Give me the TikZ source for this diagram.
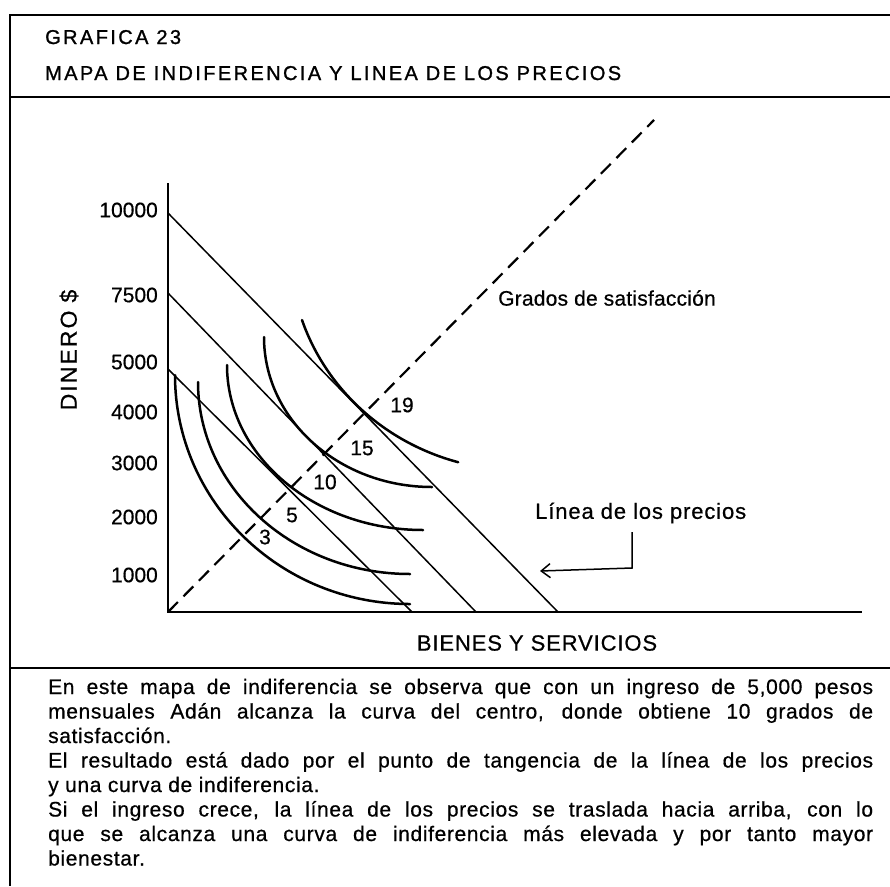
\documentclass[tikz,border=0pt]{standalone}
\usepackage{fontspec}
\setmainfont{Liberation Sans}
\newfontfamily\lsp[LetterSpace=4,FakeBold=0.6]{Liberation Sans}
\newfontfamily\gsp[LetterSpace=1,FakeBold=0.6]{Liberation Sans}
\newfontfamily\bsp[LetterSpace=3,FakeBold=0.6]{Liberation Sans}
\newfontfamily\tsp[LetterSpace=12,FakeBold=1.2]{Liberation Sans}
\newfontfamily\dsp[LetterSpace=9,FakeBold=0.6]{Liberation Sans}
\newfontfamily\nsp[FakeBold=0.6]{Liberation Sans}
\usetikzlibrary{arrows.meta}
\begin{document}
\begin{tikzpicture}[x=1pt,y=-1pt,
  frame/.style={line width=2pt},
  axis/.style={line width=2.4pt},
  pline/.style={line width=1.5pt},
  icurve/.style={line width=2.5pt, line cap=round},
  dline/.style={line width=2.2pt, dash pattern=on 14pt off 8pt},
  lab/.style={font=\lsp\fontsize{22}{26}\selectfont, inner sep=0pt},
  num/.style={font=\nsp\fontsize{21}{25}\selectfont, inner sep=0pt},
  tick/.style={num, anchor=east},
  ttl/.style={font=\tsp\fontsize{20}{24}\selectfont, inner sep=0pt, anchor=base west},
  body/.style={font=\bsp\fontsize{21}{25}\selectfont, inner sep=0pt, anchor=base west},
]
\useasboundingbox (0,0) rectangle (890,886);
% frame
\coordinate (ftl) at (10,15); \coordinate (ftr) at (890,15); \coordinate (fbl) at (10,886);
\coordinate (s1l) at (10,97); \coordinate (s1r) at (890,97);
\coordinate (s2l) at (10,668); \coordinate (s2r) at (890,668);
\draw[frame] (ftr) -- (ftl) -- (fbl);
\draw[frame] (s1l) -- (s1r);
\draw[frame] (s2l) -- (s2r);
% title
\node[ttl] (g23) at (45,44) {GRAFICA 23};
\node[ttl] (mapa) at (45,80) {MAPA DE INDIFERENCIA Y LINEA DE LOS PRECIOS};
% axes
\coordinate (O) at (168,612); \coordinate (ytop) at (168,183); \coordinate (xend) at (862,612);
\draw[axis] (ytop) -- (O) -- (xend);
% price lines
\coordinate (a1) at (168,213); \coordinate (a2) at (558,612);
\coordinate (b1) at (168,293); \coordinate (b2) at (476,612);
\coordinate (c1) at (168,369); \coordinate (c2) at (412,612);
\draw[pline] (a1) -- (a2);
\draw[pline] (b1) -- (b2);
\draw[pline] (c1) -- (c2);
% dashed line (grados de satisfaccion)
\coordinate (dtop) at (654,120);
\draw[dline] (O) -- (dtop);
% indifference curves (elliptic arcs)
\coordinate (s3) at (175,375);
\coordinate (s5) at (198,382);
\coordinate (s10) at (227,365);
\coordinate (s15) at (264,337);
\coordinate (s19) at (302,320);
\draw[icurve] (s3) arc[start angle=180, end angle=90, x radius=235, y radius=229];
\draw[icurve] (s5) arc[start angle=180, end angle=90, x radius=212, y radius=192];
\draw[icurve] (s10) arc[start angle=180, end angle=90, x radius=196, y radius=165];
\draw[icurve] (s15) arc[start angle=180, end angle=90, x radius=168, y radius=150];
\draw[icurve] (s19) arc[start angle=161.5, end angle=105.6, x radius=229.9, y radius=220.2];
% curve labels
\node[num] (n3) at (265,537) {3};
\node[num] (n5) at (292,515) {5};
\node[num] (n10) at (325,482) {10};
\node[num] (n15) at (362,448) {15};
\node[num] (n19) at (402,405) {19};
% ticks
\node[tick] (y10000) at (158,210) {10000};
\node[tick] (y7500) at (158,295) {7500};
\node[tick] (y5000) at (158,362) {5000};
\node[tick] (y4000) at (158,412) {4000};
\node[tick] (y3000) at (158,463) {3000};
\node[tick] (y2000) at (158,517) {2000};
\node[tick] (y1000) at (158,575) {1000};
% axis titles
\node[font=\dsp\fontsize{23}{27}\selectfont, inner sep=0pt, rotate=90] (dinero) at (69,350) {DINERO\hspace{8pt}\$};
\node[lab] (bienes) at (537,643) {BIENES Y SERVICIOS};
\node[font=\gsp\fontsize{21}{25}\selectfont, inner sep=0pt, anchor=west] (grados) at (498,298) {Grados de satisfacción};
\node[lab, anchor=west] (lp) at (535,513) {Línea de los precios};
% arrow
\coordinate (ar1) at (632,532); \coordinate (ar2) at (632,568); \coordinate (ar3) at (540,571);
\draw[pline, -{Straight Barb[length=9pt,width=14pt]}] (ar1) -- (ar2) -- (ar3);
% body text
\node[body] (t1) at (48,694) {\makebox[825pt][s]{En este mapa de indiferencia se observa que con un ingreso de 5,000 pesos}};
\node[body] (t2) at (48,718.5) {\makebox[825pt][s]{mensuales Adán alcanza la curva del centro, donde obtiene 10 grados de}};
\node[body] (t3) at (48,743) {satisfacción.};
\node[body] (t4) at (48,767.5) {\makebox[825pt][s]{El resultado está dado por el punto de tangencia de la línea de los precios}};
\node[body] (t5) at (48,792) {y una curva de indiferencia.};
\node[body] (t6) at (48,816.5) {\makebox[825pt][s]{Si el ingreso crece, la línea de los precios se traslada hacia arriba, con lo}};
\node[body] (t7) at (48,841) {\makebox[825pt][s]{que se alcanza una curva de indiferencia más elevada y por tanto mayor}};
\node[body] (t8) at (48,865.5) {bienestar.};
\end{tikzpicture}
\end{document}
